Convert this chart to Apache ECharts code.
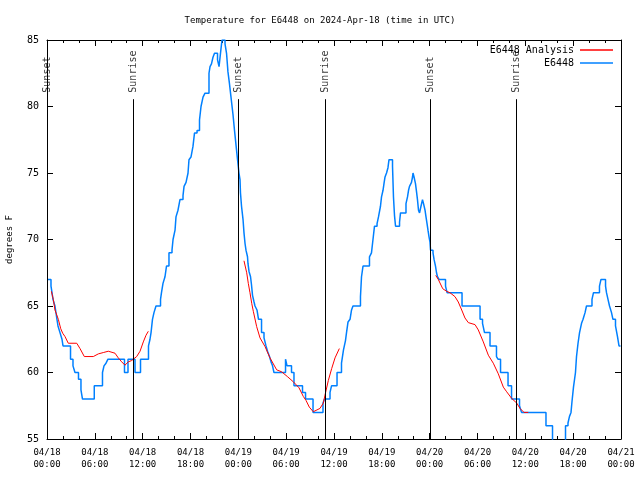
<!DOCTYPE html>
<html><head><meta charset="utf-8">
<script src="https://cdn.jsdelivr.net/npm/echarts@6/dist/echarts.min.js"></script>
<style>html,body{margin:0;padding:0;background:#fff}#c{width:640px;height:480px}</style>
</head><body><div id="c"></div>
<script>
// x values are hours since 2024-04-18 00:00 UTC
const xTickLabels = ['04/18\n00:00','04/18\n06:00','04/18\n12:00','04/18\n18:00','04/19\n00:00','04/19\n06:00','04/19\n12:00','04/19\n18:00','04/20\n00:00','04/20\n06:00','04/20\n12:00','04/20\n18:00','04/21\n00:00'];

const stationHours = [0,0.50,0.63,0.75,1.00,1.25,1.38,1.63,1.88,2.01,2.95,3.26,3.51,3.95,4.26,4.45,5.93,6.96,7.15,7.40,7.65,9.72,10.16,11.04,11.73,12.73,12.92,13.05,13.23,13.42,13.67,14.24,14.36,14.55,14.80,14.99,15.30,15.68,15.81,16.06,16.18,16.43,16.68,17.06,17.19,17.44,17.69,17.81,18.06,18.31,18.50,18.82,19.13,19.32,19.57,19.82,20.32,20.45,20.63,20.82,21.01,21.39,21.58,21.76,21.95,22.33,22.52,22.70,22.89,23.08,23.33,23.52,23.71,23.90,24.08,24.21,24.27,24.40,24.59,24.71,24.84,24.96,25.15,25.21,25.34,25.53,25.65,25.78,25.97,26.09,26.34,26.53,26.91,27.22,27.47,27.66,27.91,28.10,28.29,28.47,29.92,30.11,30.67,30.98,32.05,32.43,33.37,34.62,34.81,35.50,35.69,36.38,36.94,37.19,37.44,37.57,37.76,38.01,38.20,38.38,39.32,39.45,39.64,40.45,40.70,40.89,41.08,41.40,41.58,41.83,41.96,42.15,42.27,42.40,42.59,42.77,42.90,43.34,43.46,43.59,43.72,44.22,44.34,45.03,45.22,45.35,45.47,45.72,45.85,45.91,46.04,46.22,46.35,46.47,46.60,46.73,46.91,47.10,47.23,47.42,47.54,47.67,47.79,47.92,48.04,48.11,48.42,48.55,48.73,48.86,48.98,49.17,49.99,50.18,52.06,54.32,54.63,54.88,55.57,56.38,56.57,56.89,57.83,58.27,59.27,59.52,62.59,63.41,65.04,65.35,65.54,65.73,65.85,66.04,66.29,66.42,66.61,66.80,67.05,67.24,67.49,67.67,68.36,68.55,69.30,69.49,70.06,70.18,70.37,70.56,70.81,70.99,71.31,71.56,71.75,71.94];
const stationTemps = [67,66.5,66,65.5,65,64,63.5,63,62.5,62,61,60.5,60,59.5,58.7,58,59,60,60.5,60.7,61,60,61,60,61,62,62.5,63,64,64.5,65,65.5,66,66.7,67.2,68,69,69.2,70,70.7,71.7,72.2,73,73.3,74,74.3,75,76,76.2,77,78,78.2,79,80,80.7,81,82.5,83,83.2,83.7,84,83.5,83,84,85,84.7,84,82.6,81.7,80.7,79.4,78.2,77.1,76,75,74.5,73.5,72.5,71.5,70.5,69.7,69.2,68.7,68.2,67.6,67.2,66.6,65.8,65.3,65,64.7,64,63,62.6,62,61.6,61.2,60.8,60.5,60,61,60.5,60,59,58.5,58,57,57.7,58,58.5,59,60,60.7,61.7,62.4,63,63.8,64,64.7,65,65.7,67.2,68,68.7,69,70,71,71.2,71.7,72.5,73.2,73.7,74.2,74.7,75,75.4,76,75.5,73.2,71.8,71,71.3,72,72.7,73.2,73.7,74,74.3,74.7,75,74.7,74.2,73.6,73,72.2,72,72.5,73,72.7,72.2,71.7,71.2,70.7,70.2,69.8,69.2,69,68.5,68,67.5,67.2,67,66.5,66,65,64,63.7,63,62,61.2,61,60,59,58,57.5,57,56,54.5,56,56.2,56.7,57,57.8,58.9,60,61.2,62.2,63,63.7,64,64.5,65,65.5,66,66.5,67,66.5,66,65.5,65,64.5,64,63.5,62.7,62,62];

const analysis1Hours = [0.55,0.79,1.00,1.42,1.72,1.97,2.26,2.67,3.73,4.14,4.68,5.81,6.44,7.06,7.69,8.53,8.94,9.37,9.78,10.20,10.62,11.25,11.67,12.08,12.42,12.71];
const analysis1Temps = [66.1,65.5,64.7,64,63.3,62.95,62.7,62.2,62.2,61.8,61.2,61.2,61.4,61.5,61.6,61.45,61.1,60.8,60.55,60.8,60.9,61.2,61.6,62.3,62.8,63.1];
const analysis2Hours = [24.71,25.05,25.25,25.46,25.68,25.88,26.30,26.72,27.35,27.97,28.81,29.44,30.14,30.90,31.61,32.15,32.49,32.90,33.40,33.62,34.24,34.66,34.87,35.29,35.71,36.13,36.67];
const analysis2Temps = [68.4,67.5,66.7,66,65.2,64.6,63.45,62.6,61.95,61.1,60.2,60.05,59.7,59.3,58.85,58.2,57.9,57.4,57.05,56.9,57.3,57.7,58.3,59.4,60.3,61.1,61.8];
const analysis3Hours = [48.76,49.08,49.64,50.14,50.55,51.18,51.59,52.02,52.43,52.85,53.69,54.10,54.73,55.36,55.98,56.61,57.24,57.66,58.29,58.92,59.33,59.83,60.37];
const analysis3Temps = [67.3,67,66.3,66.1,66,65.7,65.3,64.7,64.1,63.75,63.6,63.2,62.3,61.3,60.7,59.9,58.9,58.55,58.05,57.7,57.3,57,57];

const sunEventNames = ['Sunset','Sunrise','Sunset','Sunrise','Sunset','Sunrise'];
const sunEventHours = [0.0,10.8,23.97,34.88,48.05,58.84];
const sunLineTop = 80.55;

const zip = (a,b) => a.map((v,i)=>[v,b[i]]);
const FONT = 'DejaVu Sans Mono';

const chart = echarts.init(document.getElementById('c'), null, {renderer:'canvas'});
const tickCommon = {show:true, inside:true, length:6, lineStyle:{color:'#000', width:1}};
const minorCommon = {show:true, splitNumber:3, length:3, lineStyle:{color:'#000', width:1}};

chart.setOption({
  animation:false,
  backgroundColor:'#fff',
  textStyle:{fontFamily:FONT},
  title:{text:'Temperature for E6448 on 2024-Apr-18 (time in UTC)', left:'center', top:11,
    textStyle:{fontFamily:FONT, fontSize:9, fontWeight:'normal', color:'#000'}},
  legend:{orient:'vertical', right:22, top:40, align:'right', icon:'rect', itemWidth:33, itemHeight:1.3, itemGap:3,
    data:['E6448 Analysis','E6448'],
    textStyle:{fontFamily:FONT, fontSize:10, color:'#000', padding:[0,1,0,0]}},
  grid:{left:47, right:19, top:40, bottom:41, show:false, containLabel:false, outerBoundsMode:'none'},
  xAxis:[{type:'value', min:0, max:72, interval:6, position:'bottom',
      axisLine:{show:true, onZero:false, lineStyle:{color:'#000', width:1}},
      axisTick:tickCommon, minorTick:minorCommon, splitLine:{show:false},
      axisLabel:{fontFamily:FONT, fontSize:9, color:'#000', margin:8, lineHeight:12,
        formatter:(v)=>xTickLabels[Math.round(v/6)]}},
    {type:'value', min:0, max:72, interval:6, position:'top',
      axisLine:{show:true, onZero:false, lineStyle:{color:'#000', width:1}},
      axisTick:tickCommon, minorTick:minorCommon, splitLine:{show:false}, axisLabel:{show:false}}],
  yAxis:[{type:'value', min:55, max:85, interval:5, position:'left',
      name:'degrees F', nameLocation:'middle', nameGap:33, nameRotate:90,
      nameTextStyle:{fontFamily:FONT, fontSize:9, color:'#000'},
      axisLine:{show:true, onZero:false, lineStyle:{color:'#000', width:1}},
      axisTick:tickCommon, minorTick:{show:false}, splitLine:{show:false},
      axisLabel:{fontFamily:FONT, fontSize:10, color:'#000', margin:8}},
    {type:'value', min:55, max:85, interval:5, position:'right',
      axisLine:{show:true, onZero:false, lineStyle:{color:'#000', width:1}},
      axisTick:tickCommon, splitLine:{show:false}, axisLabel:{show:false}}],
  series:[
    {name:'Sun events', type:'scatter', xAxisIndex:0, yAxisIndex:0, symbolSize:1,
      itemStyle:{color:'rgba(0,0,0,0)'}, silent:true, clip:false,
      data: sunEventHours.map((h,i)=>({name:sunEventNames[i], value:[h, sunLineTop]})),
      label:{show:true, formatter:'{b}', rotate:90, position:'top', distance:6,
        align:'left', verticalAlign:'middle', fontFamily:FONT, fontSize:10, color:'#000'},
      markLine:{silent:true, symbol:['none','none'], label:{show:false},
        lineStyle:{color:'#000', width:1, type:'solid'},
        data: sunEventHours.map(h=>[{coord:[h,55]},{coord:[h,sunLineTop]}])}},
    {name:'E6448 Analysis', type:'line', data:zip(analysis1Hours,analysis1Temps), showSymbol:false, symbol:'none',
      lineStyle:{color:'#ff0000', width:1}, itemStyle:{color:'#ff0000'}, clip:true, z:3},
    {name:'E6448 Analysis', type:'line', data:zip(analysis2Hours,analysis2Temps), showSymbol:false, symbol:'none',
      lineStyle:{color:'#ff0000', width:1}, itemStyle:{color:'#ff0000'}, clip:true, z:3},
    {name:'E6448 Analysis', type:'line', data:zip(analysis3Hours,analysis3Temps), showSymbol:false, symbol:'none',
      lineStyle:{color:'#ff0000', width:1}, itemStyle:{color:'#ff0000'}, clip:true, z:3},
    {name:'E6448', type:'line', step:'end', data:zip(stationHours,stationTemps), showSymbol:false, symbol:'none',
      lineStyle:{color:'#0080ff', width:1.5}, itemStyle:{color:'#0080ff'}, clip:true, z:2}
  ]
});
</script></body></html>
